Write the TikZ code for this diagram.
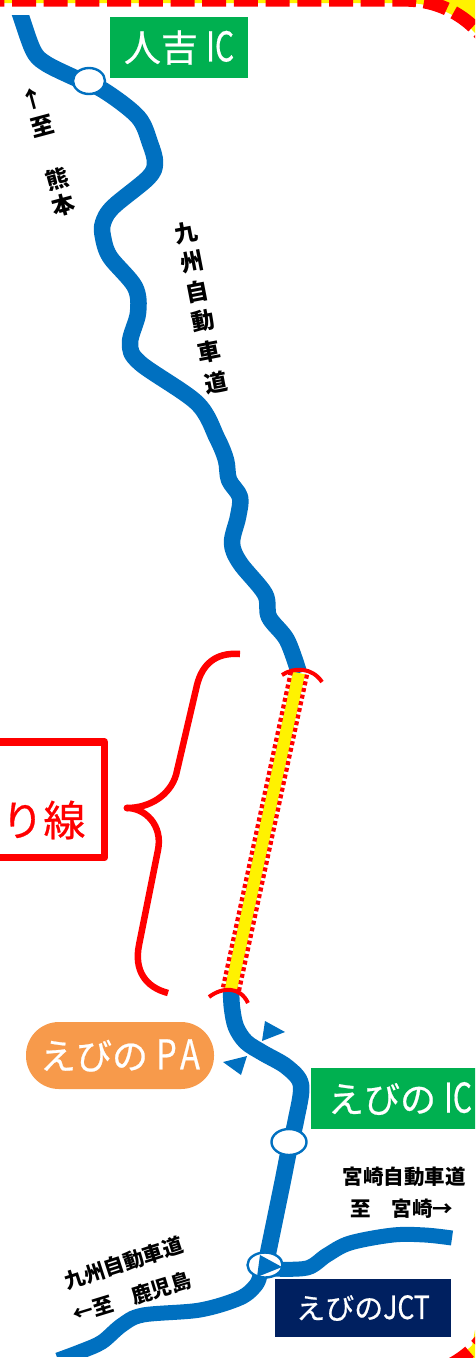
\documentclass[tikz,border=0pt]{standalone}
\usepackage{graphicx}
\usepackage{fontspec}
\setmainfont{Noto Sans CJK JP}
\newfontfamily\signfont[FakeBold=0.6]{Noto Sans CJK JP}
\usetikzlibrary{shapes.geometric,calc}
\definecolor{roadblue}{HTML}{0070C0}
\definecolor{icgreen}{HTML}{00B050}
\definecolor{paorange}{HTML}{F79A4B}
\definecolor{jctnavy}{HTML}{002060}
\newcommand{\fsz}[1]{\fontsize{#1}{#1}\selectfont}
\newcommand{\nar}[3]{\scalebox{#1}[1]{\fsz{#2}#3}}
\tikzset{
  x=1pt,y=-1pt,
  road/.style={draw=roadblue,line width=16.5pt,line join=round},
  icmark/.style={ellipse,draw=roadblue,fill=white,line width=2.4pt,inner sep=0pt},
  signbox/.style={inner sep=0pt,text=white},
  blacktext/.style={text=black,inner sep=0pt,font=\bfseries},
  redline/.style={draw=red,line cap=butt,line join=round},
  dotline/.style={draw=red,line width=4.2pt,dash pattern=on 4pt off 2.8pt},
  bluetri/.style={fill=roadblue}
}
\begin{document}
\begin{tikzpicture}
\useasboundingbox (0,0) rectangle (475,1358);
\clip (0,0) rectangle (475,1358);
% border
\fill[white] (0,0) rectangle (475,1358);
\fill[yellow] (0,0) -- (475,0) -- (475,33) -- plot[domain=-46.6:-90,samples=30] ({406+95*cos(\x)},{98+95*sin(\x)}) -- (0,3) -- cycle;
\fill[yellow] (475,1358) -- (440,1358) -- plot[domain=69:45,samples=20] ({405+95*cos(\x)},{1278+95*sin(\x)}) -- (475,1330) -- cycle;
\draw[draw=red,line width=13.4pt,dash pattern=on 24pt off 7.7pt] (-19.7,0) -- plot[domain=-90:-35,samples=40] ({406+98*cos(\x)},{98+98*sin(\x)});
\draw[draw=red,line width=13.4pt] plot[domain=48.8:65,samples=12] ({405+98*cos(\x)},{1278+98*sin(\x)});
\draw[draw=red,line width=13.4pt] plot[domain=30:43.5,samples=12] ({405+98*cos(\x)},{1278+98*sin(\x)});
% roads
\begin{scope}
\clip (0,15) rectangle (475,1356);
\draw[road] plot[smooth,tension=.55] coordinates {(17,5) (20.5,15) (33,50) (45,63) (73,77) (103,90) (138,117) (150,143) (155,163) (148,178) (113,207) (103,223) (103,237) (110,257) (135,287) (138,313) (130,343) (140,363) (197,403) (217,438) (226,460) (229,480) (240,497) (238,517) (232,543) (240,563) (265,594) (269,617) (287,640) (299,673)};
\draw[road] plot[smooth,tension=.55] coordinates {(231,990) (232,1008) (236,1027) (246,1042) (263,1053) (287,1067) (301,1085) (296,1120) (289,1150) (282,1185) (268,1253) (266,1262)};
\draw[road,line width=15pt] plot[smooth,tension=.55] coordinates {(260,1275) (256,1285) (240,1298) (200,1310) (143,1315) (122,1325) (102,1342) (82,1351) (58,1360)};
\draw[road,line width=15pt] plot[smooth,tension=.55] coordinates {(272,1269) (307,1268) (327,1255) (350,1243) (393,1235) (425,1235) (452,1238)};
\end{scope}
% widened section
\coordinate (secT) at (299,673);
\coordinate (secB) at (231,989);
\draw[draw=yellow,line width=12.5pt] (secT) -- (secB);
\draw[dotline] ($(secT)+(8,1.7)$) -- ($(secB)+(8,1.7)$);
\draw[dotline] ($(secT)+(-8,-1.7)$) -- ($(secB)+(-8,-1.7)$);
\draw[redline,line width=4pt] (282,675) .. controls (294,667) and (312,667) .. (322,682);
\draw[redline,line width=4pt] (209,997) .. controls (222,987) and (240,986) .. (248,1003);
% brace
\draw[redline,line width=6.5pt] (240,654) .. controls (215,652) and (202,665) .. (197,685) -- (176,775) .. controls (170,795) and (150,808) .. (127,808) .. controls (145,808) and (163,825) .. (158,850) -- (139,945) .. controls (134,970) and (145,987) .. (168,993);
\fill[red] (127,808) circle (3.4pt);
% red box
\draw[redline,line width=7.5pt] (-10,742) -- (104.5,742) -- (104.5,857.5) -- (-10,857.5);
\node[inner sep=0pt,text=red,font=\fsz{42}\signfont] (lane) at (43.5,820) {り線};
% IC marks
\node[icmark,minimum width=32pt,minimum height=26pt] (hitoyoshi) at (89,81) {};
\node[icmark,minimum width=35pt,minimum height=26pt] (ebinoic) at (289,1142) {};
\node[icmark,minimum width=35pt,minimum height=25pt] (jct) at (265,1265) {};
\fill[roadblue] (260,1255) -- (282,1267) -- (257,1277) -- cycle;
% triangles
\fill[bluetri] (265,1021) -- (285,1032) -- (262,1041) -- cycle;
\fill[bluetri] (223,1062) -- (247,1056) -- (241,1075) -- cycle;
% signs
\node[signbox,fill=icgreen,minimum width=138pt,minimum height=61pt,font=\fsz{37}\signfont] (s1) at (179,47.5) {人吉 \nar{.73}{41}{IC}};
\node[signbox,fill=icgreen,minimum width=178pt,minimum height=61pt,font=\fsz{36}\signfont] (s2) at (400,1098.5) {えびの \nar{.73}{41}{IC}};
\node[signbox,fill=paorange,minimum width=188pt,minimum height=67pt,rounded corners=33pt,font=\fsz{36}\signfont] (s3) at (120,1055.5) {えびの \nar{.8}{41}{P\kern4pt A}};
\node[signbox,fill=jctnavy,minimum width=176pt,minimum height=58pt,font=\fsz{29}\signfont] (s4) at (363,1308) {えびの\nar{.83}{32}{JCT}};
% black labels
\node[blacktext,font=\fsz{23}\bfseries,rotate=11] (k1) at (186,233) {九};
\node[blacktext,font=\fsz{23}\bfseries,rotate=11] (k2) at (192,262) {州};
\node[blacktext,font=\fsz{23}\bfseries,rotate=11] (k3) at (197,292) {自};
\node[blacktext,font=\fsz{23}\bfseries,rotate=11] (k4) at (203,321) {動};
\node[blacktext,font=\fsz{23}\bfseries,rotate=11] (k5) at (209,352) {車};
\node[blacktext,font=\fsz{23}\bfseries,rotate=11] (k6) at (216,383) {道};
\node[blacktext,font=\fsz{23}\bfseries,rotate=15] (u1) at (32,99) {↑};
\node[blacktext,font=\fsz{23}\bfseries,rotate=15] (u2) at (42,126) {至};
\node[blacktext,font=\fsz{23}\bfseries,rotate=15] (u3) at (57,179) {熊};
\node[blacktext,font=\fsz{23}\bfseries,rotate=15] (u4) at (63,205) {本};
\node[blacktext,font=\fsz{20.5}\bfseries] (m1) at (404,1177) {宮崎自動車道};
\node[blacktext,font=\fsz{20.5}\bfseries] (m2) at (402,1209) {至　宮崎→};
\node[blacktext,font=\fsz{20.5}\bfseries,rotate=18] (w1) at (124,1263) {九州自動車道};
\node[blacktext,font=\fsz{20.5}\bfseries,rotate=17] (w2) at (132,1297) {←至　鹿児島};
\end{tikzpicture}
\end{document}
